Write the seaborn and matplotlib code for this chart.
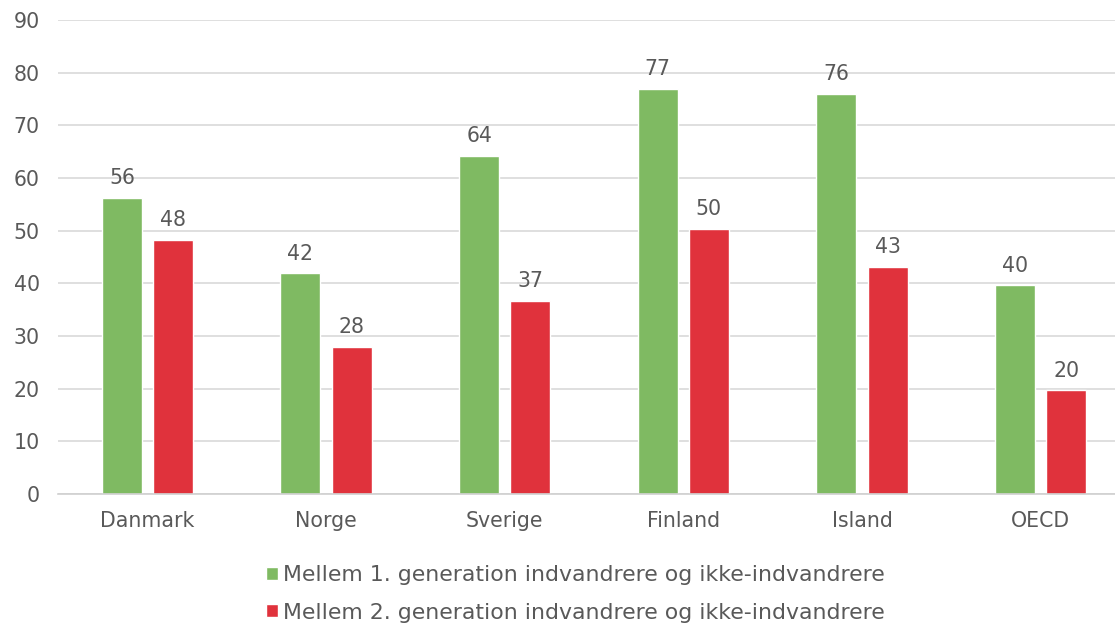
import pandas as pd
import seaborn as sns
import matplotlib.pyplot as plt

# values
countries = ['Danmark', 'Norge', 'Sverige', 'Finland', 'Island', 'OECD']
gen1 = [56.2, 41.9, 64.2, 76.9, 76.0, 39.6]
gen2 = [48.2, 27.9, 36.7, 50.4, 43.1, 19.7]
series = ['Mellem 1. generation indvandrere og ikke-indvandrere',
          'Mellem 2. generation indvandrere og ikke-indvandrere']
colors = ['#7FBA62', '#E0323C']

df = pd.DataFrame({
    'land': countries * 2,
    'vaerdi': gen1 + gen2,
    'serie': [series[0]] * len(countries) + [series[1]] * len(countries),
})

sns.set_style('white')
plt.rcParams['font.family'] = ['DejaVu Sans']
txt = '#595959'
fs = 14.8

fig = plt.figure(figsize=(11.15, 6.25), dpi=100)
ax = fig.add_axes([58 / 1115, 1 - 494 / 625, 1072 / 1115, 474 / 625])

sns.barplot(data=df, x='land', y='vaerdi', hue='serie', palette=colors,
            width=0.571, gap=0.216, ax=ax, legend=True, saturation=1)

for c in ax.containers:
    ax.bar_label(c, labels=[f'{v:.0f}' for v in c.datavalues],
                 padding=7, fontsize=fs, color=txt)

ax.set_ylim(0, 90)
ax.set_yticks(range(0, 91, 10))
ax.set_xlim(-0.5, 5.5)
ax.yaxis.grid(True, color='#D9D9D9', linewidth=1.2)
ax.set_axisbelow(True)
ax.set_xlabel('')
ax.set_ylabel('')
ax.tick_params(axis='both', length=0, labelsize=fs, labelcolor=txt)
ax.tick_params(axis='x', pad=12)
ax.tick_params(axis='y', pad=13)
for s in ['top', 'right', 'left']:
    ax.spines[s].set_visible(False)
ax.spines['bottom'].set_color('#D0D0D0')
ax.spines['bottom'].set_linewidth(1.2)

handles, labels = ax.get_legend_handles_labels()
ax.get_legend().remove()
fig.legend(handles, labels, loc='center', bbox_to_anchor=(0.516, 0.05),
           ncol=1, frameon=False, fontsize=15.8, labelcolor=txt,
           handlelength=0.55, handleheight=0.55, handletextpad=0.2,
           labelspacing=0.8)

fig.savefig('out.png', dpi=100)
